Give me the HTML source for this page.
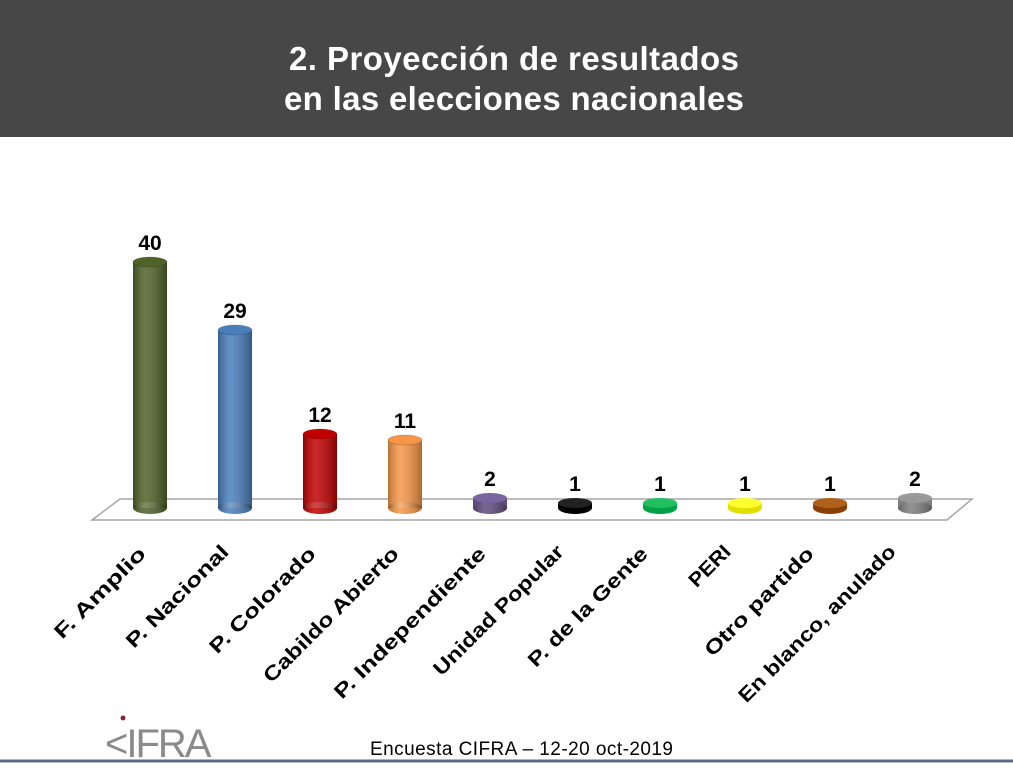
<!DOCTYPE html>
<html><head><meta charset="utf-8"><style>
body{margin:0;width:1013px;height:764px;overflow:hidden;background:#fff;font-family:"Liberation Sans",sans-serif}
</style></head><body>
<svg width="1013" height="764" xmlns="http://www.w3.org/2000/svg" font-family="Liberation Sans, sans-serif">
<defs>
<linearGradient id="sh" x1="0" x2="1" y1="0" y2="0">
<stop offset="0" stop-color="#000" stop-opacity="0.25"/>
<stop offset="0.35" stop-color="#fff" stop-opacity="0.15"/>
<stop offset="1" stop-color="#000" stop-opacity="0.3"/>
</linearGradient>
</defs>
<rect x="0" y="0" width="1013" height="137" fill="#474747"/>
<text x="514" y="70" text-anchor="middle" fill="#fff" font-weight="bold" font-size="33" textLength="450">2. Proyección de resultados</text>
<text x="514" y="110" text-anchor="middle" fill="#fff" font-weight="bold" font-size="33" textLength="460">en las elecciones nacionales</text>
<polygon points="92,520 120,499 972,499 947,520" fill="#fff" stroke="#a6a6a6" stroke-width="1.5"/>

<g>
<rect x="133" y="262" width="34" height="246" fill="#4f6228"/><ellipse cx="150" cy="508" rx="17" ry="6" fill="#4f6228"/>
<rect x="133" y="262" width="34" height="246" fill="url(#sh)"/><ellipse cx="150" cy="508" rx="17" ry="6" fill="url(#sh)"/>
<ellipse cx="150" cy="262" rx="17" ry="5" fill="#4f6228" stroke="#000" stroke-opacity="0.15"/>
<text x="150" y="250" text-anchor="middle" font-weight="bold" font-size="21">40</text>

<rect x="218" y="330" width="34" height="178" fill="#4a7ebb"/><ellipse cx="235" cy="508" rx="17" ry="6" fill="#4a7ebb"/>
<rect x="218" y="330" width="34" height="178" fill="url(#sh)"/><ellipse cx="235" cy="508" rx="17" ry="6" fill="url(#sh)"/>
<ellipse cx="235" cy="330" rx="17" ry="5" fill="#4a7ebb" stroke="#000" stroke-opacity="0.15"/>
<text x="235" y="318" text-anchor="middle" font-weight="bold" font-size="21">29</text>

<rect x="303" y="434" width="34" height="74" fill="#c00000"/><ellipse cx="320" cy="508" rx="17" ry="6" fill="#c00000"/>
<rect x="303" y="434" width="34" height="74" fill="url(#sh)"/><ellipse cx="320" cy="508" rx="17" ry="6" fill="url(#sh)"/>
<ellipse cx="320" cy="434" rx="17" ry="5" fill="#c00000" stroke="#000" stroke-opacity="0.15"/>
<text x="320" y="422" text-anchor="middle" font-weight="bold" font-size="21">12</text>

<rect x="388" y="440" width="34" height="68" fill="#f79646"/><ellipse cx="405" cy="508" rx="17" ry="6" fill="#f79646"/>
<rect x="388" y="440" width="34" height="68" fill="url(#sh)"/><ellipse cx="405" cy="508" rx="17" ry="6" fill="url(#sh)"/>
<ellipse cx="405" cy="440" rx="17" ry="5" fill="#f79646" stroke="#000" stroke-opacity="0.15"/>
<text x="405" y="428" text-anchor="middle" font-weight="bold" font-size="21">11</text>

<rect x="473" y="498" width="34" height="10" fill="#604a7b"/><ellipse cx="490" cy="508" rx="17" ry="6" fill="#604a7b"/>
<ellipse cx="490" cy="508" rx="17" ry="6" fill="url(#sh)"/>
<ellipse cx="490" cy="498" rx="17" ry="5" fill="#7a64a0"/>
<text x="490" y="486" text-anchor="middle" font-weight="bold" font-size="21">2</text>

<rect x="558" y="503" width="34" height="5" fill="#000"/><ellipse cx="575" cy="508" rx="17" ry="6" fill="#000"/>
<ellipse cx="575" cy="503" rx="17" ry="5" fill="#222"/>
<text x="575" y="491" text-anchor="middle" font-weight="bold" font-size="21">1</text>

<rect x="643" y="503" width="34" height="5" fill="#00b050"/><ellipse cx="660" cy="508" rx="17" ry="6" fill="#00a048"/>
<ellipse cx="660" cy="503" rx="17" ry="5" fill="#20c060"/>
<text x="660" y="491" text-anchor="middle" font-weight="bold" font-size="21">1</text>

<rect x="728" y="503" width="34" height="5" fill="#e8e800"/><ellipse cx="745" cy="508" rx="17" ry="6" fill="#e0e000"/>
<ellipse cx="745" cy="503" rx="17" ry="5" fill="#ffff30"/>
<text x="745" y="491" text-anchor="middle" font-weight="bold" font-size="21">1</text>

<rect x="813" y="503" width="34" height="5" fill="#984807"/><ellipse cx="830" cy="508" rx="17" ry="6" fill="#884007"/>
<ellipse cx="830" cy="503" rx="17" ry="5" fill="#b0601a"/>
<text x="830" y="491" text-anchor="middle" font-weight="bold" font-size="21">1</text>

<rect x="898" y="498" width="34" height="10" fill="#7f7f7f"/><ellipse cx="915" cy="508" rx="17" ry="6" fill="#7f7f7f"/>
<ellipse cx="915" cy="508" rx="17" ry="6" fill="url(#sh)"/>
<ellipse cx="915" cy="498" rx="17" ry="5" fill="#999"/>
<text x="915" y="486" text-anchor="middle" font-weight="bold" font-size="21">2</text>
</g>

<g font-weight="bold" font-size="20" fill="#000" text-anchor="end">
<text transform="translate(147,555) rotate(-45)" textLength="120" lengthAdjust="spacingAndGlyphs">F. Amplio</text>
<text transform="translate(230,553) rotate(-45)" textLength="136" lengthAdjust="spacingAndGlyphs">P. Nacional</text>
<text transform="translate(317,555) rotate(-45)" textLength="141" lengthAdjust="spacingAndGlyphs">P. Colorado</text>
<text transform="translate(400,555) rotate(-45)" textLength="182" lengthAdjust="spacingAndGlyphs">Cabildo Abierto</text>
<text transform="translate(487,555) rotate(-45)" textLength="205" lengthAdjust="spacingAndGlyphs">P. Independiente</text>
<text transform="translate(565,553) rotate(-45)" textLength="175" lengthAdjust="spacingAndGlyphs">Unidad Popular</text>
<text transform="translate(649,555) rotate(-45)" textLength="160" lengthAdjust="spacingAndGlyphs">P. de la Gente</text>
<text transform="translate(732,553) rotate(-45)" textLength="50" lengthAdjust="spacingAndGlyphs">PERI</text>
<text transform="translate(815,555) rotate(-45)" textLength="145" lengthAdjust="spacingAndGlyphs">Otro partido</text>
<text transform="translate(897,553) rotate(-45)" textLength="213" lengthAdjust="spacingAndGlyphs">En blanco, anulado</text>
</g>

<line x1="0" y1="761" x2="1013" y2="761" stroke="#5a6b80" stroke-width="3"/>
<text x="105" y="757" font-size="40" fill="#8a8a8a" letter-spacing="-2">&lt;IFRA</text>
<circle cx="123" cy="718" r="2.5" fill="#7b2a3a"/>
<text x="370" y="755" font-size="19" fill="#000" textLength="303">Encuesta CIFRA – 12-20 oct-2019</text>
</svg>
</body></html>
